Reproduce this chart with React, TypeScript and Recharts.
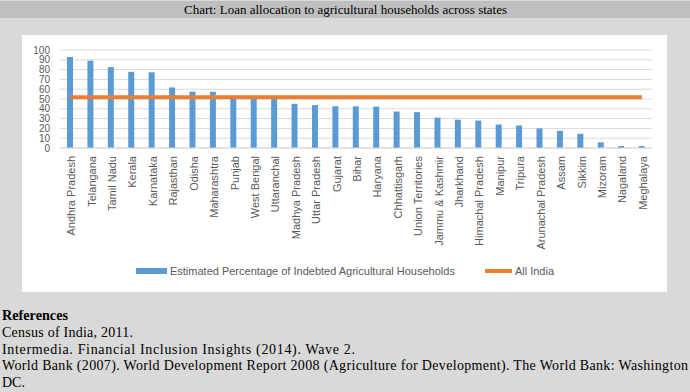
import React from 'react';
import { ComposedChart, Bar, Line, XAxis, YAxis, CartesianGrid, Legend } from 'recharts';

const states = [
  'Andhra Pradesh', 'Telangana', 'Tamil Nadu', 'Kerala', 'Karnataka', 'Rajasthan', 'Odisha',
  'Maharashtra', 'Punjab', 'West Bengal', 'Uttaranchal', 'Madhya Pradesh', 'Uttar Pradesh',
  'Gujarat', 'Bihar', 'Haryana', 'Chhattisgarh', 'Union Territories', 'Jammu & Kashmir',
  'Jharkhand', 'Himachal Pradesh', 'Manipur', 'Tripura', 'Arunachal Pradesh', 'Assam',
  'Sikkim', 'Mizoram', 'Nagaland', 'Meghalaya',
];

const indebtedPct = [
  92.9, 89.1, 82.5, 77.7, 77.3, 61.8, 57.5, 57.3, 53.2, 51.5, 50.8, 45.1, 43.8, 42.6, 42.5,
  42.3, 37.2, 36.6, 31.0, 28.9, 28.0, 24.0, 23.0, 20.0, 17.5, 14.5, 5.8, 2.0, 2.0,
];

const allIndiaValue = 51.9;

const yTicks = [0, 10, 20, 30, 40, 50, 60, 70, 80, 90, 100];

const seriesNames = ['Estimated Percentage of Indebted Agricultural Households', 'All India'];

const titleText = 'Chart: Loan allocation to agricultural households across states';
const referenceHeading = 'References';
const referenceLines = [
  'Census of India, 2011.',
  'Intermedia. Financial Inclusion Insights (2014). Wave 2.',
  'World Bank (2007). World Development Report 2008 (Agriculture for Development). The World Bank: Washington',
  'DC.',
];
const referenceWidths = [131, 353, 686, 0];

const data = states.map((s, i) => ({ state: s, pct: indebtedPct[i], allIndia: allIndiaValue }));

const BLUE = '#5B9BD5';
const ORANGE = '#ED7D31';
const AXIS_TEXT = '#595959';
const SANS = '"Liberation Sans", Arial, sans-serif';
const SERIF = '"Liberation Serif", "Times New Roman", serif';

const XTick = (props: any) => {
  const { x, y, payload } = props;
  return (
    <text
      x={x}
      y={y}
      transform={`rotate(-90, ${x}, ${y})`}
      textAnchor="end"
      dy={5}
      fontSize={11}
      fontFamily={SANS}
      fill={AXIS_TEXT}
    >
      {payload.value}
    </text>
  );
};

const LegendContent = (props: any) => {
  const payload = [...(props.payload || [])].sort(
    (a: any, b: any) => seriesNames.indexOf(a.value) - seriesNames.indexOf(b.value)
  );
  return (
    <div
      style={{
        display: 'flex',
        justifyContent: 'center',
        alignItems: 'center',
        fontFamily: SANS,
        fontSize: 11,
        color: AXIS_TEXT,
        height: 16,
      }}
    >
      {payload.map((p: any, i: number) => (
        <div key={i} style={{ display: 'flex', alignItems: 'center', marginLeft: i === 0 ? 0 : 30 }}>
          <span
            style={{
              display: 'inline-block',
              width: p.type === 'line' ? 27 : 31,
              height: p.type === 'line' ? 4 : 6,
              background: p.color,
              marginRight: 3,
            }}
          />
          <span>{p.value}</span>
        </div>
      ))}
    </div>
  );
};

export default function App() {
  return (
    <div
      style={{
        position: 'absolute',
        left: 0,
        top: 0,
        width: 690,
        height: 392,
        background: '#d9d9d9',
        overflow: 'hidden',
      }}
    >
      <div style={{ position: 'absolute', left: 0, top: 1, width: 690, height: 17, background: '#bfbfbf' }} />
      <div style={{ position: 'absolute', left: 22, top: 35, width: 645, height: 257, background: '#ffffff' }} />
      <div style={{ position: 'absolute', left: 0, top: 0 }}>
        <ComposedChart
          width={690}
          height={292}
          data={data}
          margin={{ top: 50, right: 38, left: 20, bottom: 44 }}
        >
          <CartesianGrid vertical={false} stroke="#d9d9d9" />
          <XAxis
            dataKey="state"
            interval={0}
            tickLine={false}
            axisLine={{ stroke: '#d9d9d9' }}
            height={100}
            tick={<XTick />}
          />
          <YAxis
            domain={[0, 100]}
            ticks={yTicks}
            interval={0}
            axisLine={false}
            tickLine={false}
            width={40}
            tickMargin={4}
            tick={{ fontSize: 10, fill: AXIS_TEXT, fontFamily: SANS }}
          />
          <Bar dataKey="pct" name={seriesNames[0]} fill={BLUE} barSize={6} isAnimationActive={false} legendType="rect" />
          <Line
            dataKey="allIndia"
            name={seriesNames[1]}
            stroke={ORANGE}
            strokeWidth={4}
            dot={false}
            activeDot={false}
            isAnimationActive={false}
            legendType="line"
          />
          <Legend
            layout="horizontal"
            verticalAlign="middle"
            align="center"
            wrapperStyle={{ top: 263, left: 0, width: 690 }}
            content={<LegendContent />}
          />
        </ComposedChart>
      </div>
      <svg
        width={690}
        height={392}
        style={{ position: 'absolute', left: 0, top: 0, pointerEvents: 'none' }}
      >
        <text
          x={184}
          y={14}
          fontFamily={SERIF}
          fontSize={13}
          fill="#000"
          textLength={323}
          lengthAdjust="spacingAndGlyphs"
        >
          {titleText}
        </text>
        <text x={2} y={320} fontFamily={SERIF} fontSize={14} fontWeight="bold" fill="#000" textLength={66} lengthAdjust="spacingAndGlyphs">
          {referenceHeading}
        </text>
        {referenceLines.map((line, i) => (
          <text
            key={i}
            x={2}
            y={337 + i * 16.6}
            fontFamily={SERIF}
            fontSize={14}
            fill="#000"
            {...(referenceWidths[i] > 0 ? { textLength: referenceWidths[i], lengthAdjust: 'spacing' } : {})}
          >
            {line}
          </text>
        ))}
      </svg>
    </div>
  );
}
